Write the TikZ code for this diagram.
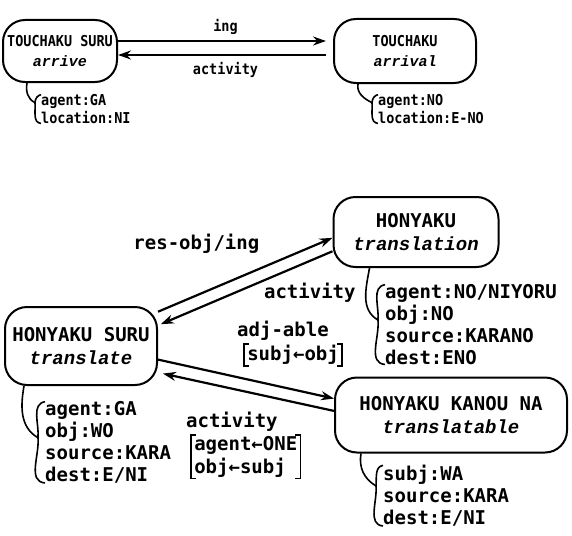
\documentclass[tikz,border=0pt]{standalone}
\usepackage{fontspec}
\setmonofont{DejaVu Sans Mono}[UprightFont=*-Bold]
\newfontfamily\narrowmono{DejaVu Sans Mono Bold}[FakeStretch=0.9]
\newfontfamily\glossfont{Liberation Mono}[ItalicFont=* Bold Italic]
\usetikzlibrary{arrows.meta,calc}

\tikzset{
  concept/.style={draw, line width=2pt, rounded corners=22pt, align=center, inner sep=0pt},
  smallfont/.style={font=\narrowmono\fontsize{15}{20}\selectfont},
  bigfont/.style={font=\ttfamily\fontsize{19}{23}\selectfont},
  smallslots/.style={font=\narrowmono\fontsize{15}{18}\selectfont},
  bigslots/.style={font=\ttfamily\fontsize{19}{22}\selectfont},
  attrs/.style={anchor=base west, align=left, inner sep=0pt},
  rel/.style={line width=2.2pt, -{Stealth[length=13pt,width=9pt]}},
  hook/.style={line width=1.6pt},
  brk/.style={line width=1.6pt},
}
\newcommand{\gloss}[1]{{\glossfont\itshape #1}}

\begin{document}
\begin{tikzpicture}[x=1pt,y=-1pt]
\useasboundingbox (0,0) rectangle (572,535);

% upper figure: arrive / arrival
\node[concept, smallfont, minimum width=114pt, minimum height=62pt] (arrive) at (60,51) {TOUCHAKU SURU\\\gloss{arrive}};
\node[concept, smallfont, minimum width=142pt, minimum height=64pt] (arrival) at (405,51) {TOUCHAKU\\\gloss{arrival}};

\draw[rel, shorten >=7pt] ([yshift=10pt]arrive.east) -- ([yshift=10pt]arrival.west) node[midway, above=2pt, smallfont] {ing};
\draw[rel, shorten <=7pt] ([yshift=-4pt]arrival.west) -- ([yshift=-4pt]arrive.east) node[midway, below=3pt, smallfont] {activity};

% slot lists, anchored at the baseline of their last line
\node[attrs, smallslots] (arriveslots) at (41,123) {agent:GA\\location:NI};
\node[attrs, smallslots] (arrivalslots) at (378,123) {agent:NO\\location:E-NO};

\draw[hook] ([yshift=-1pt]arriveslots.north west) to[out=190,in=85] ($(arriveslots.north west)!.3!(arriveslots.south west)+(-6pt,0)$) coordinate (arrivetip) to[out=-85,in=175] (arriveslots.south west);
\draw[hook] ([xshift=25pt]arrive.south west) to[out=-100,in=155] (arrivetip);
\draw[hook] ([yshift=-1pt]arrivalslots.north west) to[out=190,in=85] ($(arrivalslots.north west)!.3!(arrivalslots.south west)+(-6pt,0)$) coordinate (arrivaltip) to[out=-85,in=175] (arrivalslots.south west);
\draw[hook] ([xshift=25pt]arrival.south west) to[out=-100,in=155] (arrivaltip);

% lower figure: translate / translation / translatable
\node[concept, bigfont, minimum width=165pt, minimum height=70pt] (translation) at (416,232) {HONYAKU\\\gloss{translation}};
\node[concept, bigfont, minimum width=152pt, minimum height=78pt] (translate) at (81,346) {HONYAKU SURU\\\gloss{translate}};
\node[concept, bigfont, minimum width=232pt, minimum height=75pt] (translatable) at (451,415) {HONYAKU KANOU NA\\\gloss{translatable}};

\draw[rel] (translate.24) -- (translation.184) node[pos=0.22, above=38pt, bigfont] {res-obj/ing};
\draw[rel, shorten >=3pt] (translation.193) -- (translate.15) node[pos=0.13, below=18pt, bigfont] {activity};

\draw[rel] (translate.-10) -- (translatable.172) node[pos=0.71, above=46pt, bigfont, inner sep=0pt] (adjable) {adj-able};
\node[bigfont, anchor=north west, inner sep=1pt] (subjobj) at ([xshift=10pt,yshift=-3pt]adjable.south west) {subj←obj};
\draw[brk] ([xshift=3pt]subjobj.north west) -| ([xshift=-2pt]subjobj.south west) -- ++(5pt,0);
\draw[brk] ([xshift=-3pt]subjobj.north east) -| ([xshift=2pt]subjobj.south east) -- ++(-5pt,0);

\draw[rel, shorten >=5pt] (translatable.178) -- (translate.-19) node[pos=0.58, below=22pt, bigfont, inner sep=0pt] (lowact) {activity};
\node[bigfont, anchor=north west, inner sep=1pt, align=left] (roles) at ([xshift=8pt,yshift=-3pt]lowact.south west) {agent←ONE\\obj←subj};
\draw[brk] ([xshift=3pt]roles.north west) -| ([xshift=-2pt]roles.south west) -- ++(5pt,0);
\draw[brk] ([xshift=-3pt]roles.north east) -| ([xshift=2pt]roles.south east) -- ++(-5pt,0);

\node[attrs, bigslots] (translationslots) at (385,364) {agent:NO/NIYORU\\obj:NO\\source:KARANO\\dest:ENO};
\node[attrs, bigslots] (translateslots) at (45,481) {agent:GA\\obj:WO\\source:KARA\\dest:E/NI};
\node[attrs, bigslots] (translatableslots) at (383,524) {subj:WA\\source:KARA\\dest:E/NI};

\draw[hook] ([yshift=-1pt]translationslots.north west) to[out=190,in=85] ($(translationslots.north west)!.45!(translationslots.south west)+(-7pt,0)$) coordinate (translationtip) to[out=-85,in=175] (translationslots.south west);
\draw[hook] ([xshift=37pt]translation.south west) to[out=-100,in=150] (translationtip);
\draw[hook] ([yshift=-1pt]translateslots.north west) to[out=190,in=85] ($(translateslots.north west)!.45!(translateslots.south west)+(-7pt,0)$) coordinate (translatetip) to[out=-85,in=175] (translateslots.south west);
\draw[hook] ([xshift=20pt]translate.south west) to[out=-100,in=150] (translatetip);
\draw[hook] ([yshift=-1pt]translatableslots.north west) to[out=190,in=85] ($(translatableslots.north west)!.35!(translatableslots.south west)+(-7pt,0)$) coordinate (translatabletip) to[out=-85,in=175] (translatableslots.south west);
\draw[hook] ([xshift=27pt]translatable.south west) to[out=-100,in=150] (translatabletip);
\end{tikzpicture}
\end{document}
